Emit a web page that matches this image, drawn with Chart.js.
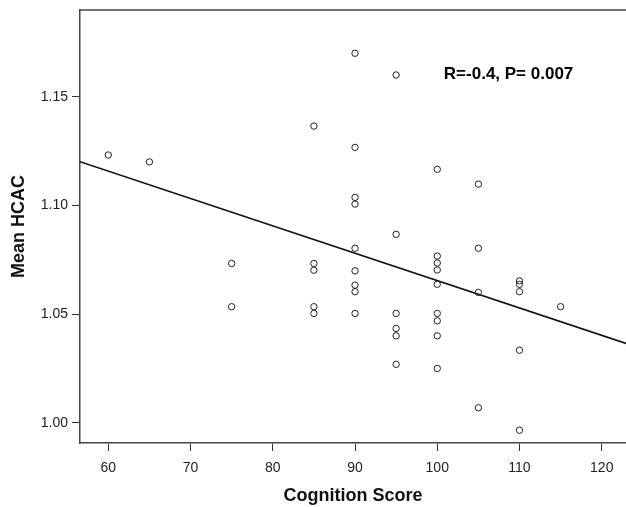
<!DOCTYPE html>
<html>
<head>
<meta charset="utf-8">
<script src="https://cdn.jsdelivr.net/npm/chart.js@4.4.1/dist/chart.umd.min.js"></script>
<style>
html,body{margin:0;padding:0;background:#fff;overflow:hidden;}
#c{display:block;}
</style>
</head>
<body>
<canvas id="c" width="626" height="507"></canvas>
<script>
// Data
const cognition = [60,65,75,75,85,85,85,85,85,
  90,90,90,90,90,90,90,90,90,
  95,95,95,95,95,95,
  100,100,100,100,100,100,100,100,100,
  105,105,105,105,
  110,110,110,110,110,
  115];
const hcac = [1.1232,1.1200,1.0733,1.0534,1.1365,1.0733,1.0702,1.0534,1.0503,
  1.1700,1.1267,1.1037,1.1006,1.0803,1.0699,1.0633,1.0603,1.0503,
  1.1600,1.0867,1.0503,1.0434,1.0400,1.0269,
  1.1166,1.0767,1.0735,1.0703,1.0637,1.0503,1.0469,1.0400,1.0250,
  1.1098,1.0803,1.0600,1.0069,
  1.0653,1.0637,1.0603,1.0334,0.9966,
  1.0534];
// Fit line end points
const fitX = [56.56, 122.95];
const fitY = [1.1201, 1.0365];
const xTicks = [60,70,80,90,100,110,120];
const yTicks = [1.00,1.05,1.10,1.15];
const annotation = {text:'R=-0.4, P= 0.007', x:100.8, y:1.1605};

const points = cognition.map((v,i)=>({x:v,y:hcac[i]}));
const fitLine = fitX.map((v,i)=>({x:v,y:fitY[i]}));

const framePlugin = {
  id:'frame',
  afterDraw(chart){
    const {ctx, chartArea, scales} = chart;
    ctx.save();
    ctx.strokeStyle = '#444';
    ctx.lineWidth = 1.5;
    ctx.beginPath();
    ctx.moveTo(chartArea.left, chartArea.top);
    ctx.lineTo(chart.width, chartArea.top);
    ctx.stroke();
    ctx.fillStyle = '#000';
    ctx.font = 'bold 17px "Liberation Sans", Arial, sans-serif';
    ctx.textAlign = 'left';
    ctx.textBaseline = 'middle';
    ctx.fillText(annotation.text, scales.x.getPixelForValue(annotation.x), scales.y.getPixelForValue(annotation.y));
    ctx.restore();
  }
};

new Chart(document.getElementById('c'), {
  type:'scatter',
  data:{
    datasets:[
      {
        type:'scatter',
        data:points,
        pointStyle:'circle',
        pointRadius:3.2,
        pointHoverRadius:3.2,
        borderWidth:1,
        borderColor:'#222',
        backgroundColor:'rgba(255,255,255,0)'
      },
      {
        type:'line',
        data:fitLine,
        showLine:true,
        pointRadius:0,
        borderColor:'#111',
        borderWidth:1.6,
        fill:false,
        tension:0
      }
    ]
  },
  options:{
    responsive:false,
    animation:false,
    devicePixelRatio:1,
    layout:{autoPadding:false, padding:{top:10,right:0,left:0,bottom:0}},
    plugins:{legend:{display:false},tooltip:{enabled:false}},
    scales:{
      x:{
        type:'linear',
        min:56.56, max:122.95,
        afterBuildTicks(s){ s.ticks = xTicks.map(v=>({value:v})); },
        afterFit(s){ s.height = 64; s.paddingLeft = 0; s.paddingRight = 0; },
        grid:{display:true, drawOnChartArea:false, drawTicks:true, tickLength:8, color:'#333', lineWidth:1},
        border:{display:true, color:'#444', width:1.5},
        ticks:{padding:9, color:'#222', font:{family:'"Liberation Sans", Arial, sans-serif', size:14}, maxRotation:0},
        title:{display:true, text:'Cognition Score', color:'#111', padding:{top:0,bottom:0}, font:{family:'"Liberation Sans", Arial, sans-serif', size:18, weight:'bold'}}
      },
      y:{
        type:'linear',
        min:0.9907, max:1.1899,
        afterBuildTicks(s){ s.ticks = yTicks.map(v=>({value:v})); },
        afterFit(s){ s.width = 80; s.paddingTop = 0; s.paddingBottom = 0; },
        grid:{display:true, drawOnChartArea:false, drawTicks:true, tickLength:8, color:'#333', lineWidth:1},
        border:{display:true, color:'#444', width:1.5},
        ticks:{padding:4, color:'#222', font:{family:'"Liberation Sans", Arial, sans-serif', size:14}, callback:v=>v.toFixed(2)},
        title:{display:true, text:'Mean HCAC', color:'#111', padding:{top:8,bottom:0}, font:{family:'"Liberation Sans", Arial, sans-serif', size:18, weight:'bold'}}
      }
    }
  },
  plugins:[framePlugin]
});
</script>
</body>
</html>
